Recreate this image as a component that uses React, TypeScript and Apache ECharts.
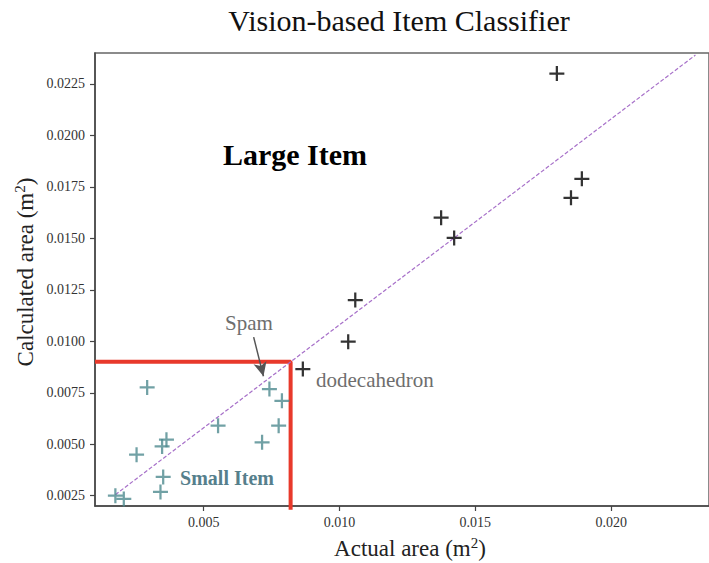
import React, { useEffect, useRef } from "react";
import * as echarts from "echarts";

// Large items (black crosses)
const largeX = [0.0180, 0.01892, 0.01852, 0.01374, 0.01422, 0.01058, 0.01032, 0.00865];
const largeY = [0.0230, 0.01789, 0.01697, 0.0160, 0.01502, 0.0120, 0.00998, 0.00865];
// Small items (teal crosses)
const smallX = [0.00292, 0.00742, 0.00788, 0.00553, 0.00776, 0.00715, 0.00363, 0.00347, 0.00253, 0.00351, 0.00341, 0.00175, 0.00206];
const smallY = [0.00776, 0.00768, 0.00711, 0.0059, 0.0059, 0.00509, 0.00522, 0.00489, 0.00449, 0.00341, 0.00268, 0.0025, 0.00234];
// Reference (fit) line endpoints
const fitLine = [[0.00175, 0.00255], [0.0231, 0.0239]];
// Threshold box
const thresholdX = 0.0082;
const thresholdY = 0.009;
// Spam arrow
const arrowFrom = [0.00684, 0.0102];
const arrowTo = [0.0072, 0.0083];
// Ticks
const xTicks = [0.005, 0.01, 0.015, 0.02];
const yTicks = [0.0025, 0.005, 0.0075, 0.01, 0.0125, 0.015, 0.0175, 0.02, 0.0225];

const SERIF = "Liberation Serif";
const CROSS = "path://M8.5,0h3v8.5h8.5v3h-8.5v8.5h-3v-8.5h-8.5v-3h8.5z";

export default function App() {
  const ref = useRef<HTMLDivElement>(null);
  useEffect(() => {
    document.body.style.margin = "0";
    const chart = echarts.init(ref.current!, null, { renderer: "svg" });
    const axisLine = { show: true, lineStyle: { color: "#444", width: 1.5 } };
    const titleRich = {
      a: { fontFamily: SERIF, fontSize: 23, lineHeight: 26, fill: "#222" },
      s: { fontFamily: SERIF, fontSize: 15, lineHeight: 15, verticalAlign: "top", fill: "#222" },
    };
    chart.setOption({
      animation: false,
      backgroundColor: "#fff",
      grid: { left: 95, top: 53, right: -1, bottom: 57, show: true, borderColor: "#666", borderWidth: 1.5, backgroundColor: "transparent" },
      xAxis: {
        type: "value",
        min: 0.001,
        max: 0.0236,
        axisLine,
        splitLine: { show: false },
        axisTick: { show: true, length: 5, inside: false, customValues: xTicks, lineStyle: { color: "#444", width: 1.2 } },
        axisLabel: {
          customValues: xTicks,
          formatter: (v: number) => v.toFixed(3),
          fontFamily: SERIF,
          fontSize: 14,
          color: "#333",
          margin: 9,
        },
      },
      yAxis: {
        type: "value",
        min: 0.002,
        max: 0.024,
        axisLine,
        splitLine: { show: false },
        axisTick: { show: true, length: 5, inside: false, customValues: yTicks, lineStyle: { color: "#444", width: 1.2 } },
        axisLabel: {
          customValues: yTicks,
          formatter: (v: number) => v.toFixed(4),
          fontFamily: SERIF,
          fontSize: 14,
          color: "#333",
          margin: 10,
        },
      },
      series: [
        {
          type: "line",
          data: fitLine,
          symbol: "none",
          silent: true,
          lineStyle: { color: "#a770c9", width: 1.2, type: [4, 2] },
          markLine: {
            silent: true,
            symbol: ["none", "arrow"],
            symbolSize: [10, 14],
            label: { show: false },
            lineStyle: { color: "#555", width: 1.5, type: "solid" },
            data: [[{ coord: arrowFrom }, { coord: arrowTo }]],
          },
          z: 3,
        },
        {
          type: "line",
          data: [[0.001, thresholdY], [thresholdX, thresholdY], [thresholdX, 0.00182]],
          symbol: "none",
          clip: false,
          silent: true,
          lineStyle: { color: "#e8392b", width: 4 },
          z: 2,
        },
        {
          type: "scatter",
          data: smallX.map((x, i) => [x, smallY[i]]),
          symbol: CROSS,
          symbolSize: 15,
          itemStyle: { color: "#4d8a8f" },
          z: 4,
        },
        {
          type: "scatter",
          data: largeX.map((x, i) => [x, largeY[i]]),
          symbol: CROSS,
          symbolSize: 15,
          itemStyle: { color: "#000" },
          z: 4,
        },
      ],
      graphic: [
        { type: "text", x: 399, y: 20, style: { text: "Vision-based Item Classifier", font: `30px '${SERIF}'`, fill: "#111", textAlign: "center", textVerticalAlign: "middle" } },
        { type: "text", x: 295, y: 154, style: { text: "Large Item", font: `bold 30px '${SERIF}'`, fill: "#000", textAlign: "center", textVerticalAlign: "middle" } },
        { type: "text", x: 227, y: 478, style: { text: "Small Item", font: `bold 20px '${SERIF}'`, fill: "#567f8c", textAlign: "center", textVerticalAlign: "middle" } },
        { type: "text", x: 249, y: 323, style: { text: "Spam", font: `21px '${SERIF}'`, fill: "#6e6e6e", textAlign: "center", textVerticalAlign: "middle" } },
        { type: "text", x: 316, y: 380, style: { text: "dodecahedron", font: `21px '${SERIF}'`, fill: "#6e6e6e", textAlign: "left", textVerticalAlign: "middle" } },
        {
          type: "text", x: 410, y: 548,
          style: { text: "{a|Actual area (m}{s|2}{a|)}", textAlign: "center", textVerticalAlign: "middle", rich: titleRich },
        },
        {
          type: "text", x: 25, y: 272, rotation: Math.PI / 2,
          style: { text: "{a|Calculated area (m}{s|2}{a|)}", textAlign: "center", textVerticalAlign: "middle", rich: titleRich },
        },
      ],
    });
    return () => chart.dispose();
  }, []);
  return <div ref={ref} style={{ width: 709, height: 563 }} />;
}
